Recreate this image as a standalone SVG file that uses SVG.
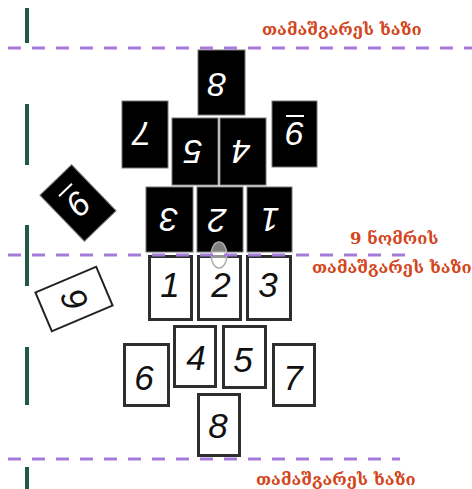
<svg xmlns="http://www.w3.org/2000/svg" width="472" height="489" viewBox="0 0 472 489">
<style>
.bt{fill:#000;stroke:#777;stroke-width:1}
.wt{fill:#fff;stroke:#2e2e2e;stroke-width:3}
.wd{font-family:"Liberation Sans",Arial,sans-serif;font-style:italic;font-size:35px;fill:#111;text-anchor:middle}
.bd{font-family:"Liberation Sans",Arial,sans-serif;font-style:italic;font-size:34px;fill:#fff;text-anchor:middle}
.geo{font-family:"DejaVu Serif","DejaVu Sans",serif;font-weight:bold;font-size:16.5px;fill:#d2461c}
.dash{stroke:#a67ad8;stroke-width:3;stroke-dasharray:13 11;fill:none}
.green{stroke:#1f5a47;stroke-width:4}
</style>
<rect width="472" height="489" fill="#fff"/>
<g id="sidelines">
<line class="green" x1="27" y1="8" x2="27" y2="43"/>
<line class="green" x1="27" y1="104" x2="27" y2="165"/>
<line class="green" x1="27" y1="225" x2="27" y2="286"/>
<line class="green" x1="27" y1="347" x2="27" y2="405"/>
<line class="green" x1="27" y1="467" x2="27" y2="489"/>
</g>
<g id="black-tiles">
<g id="b8"><rect class="bt" x="198" y="50" width="47" height="65"/><text class="bd" x="217" y="96.5" transform="rotate(180 217 84.5)">8</text></g>
<g id="b7"><rect class="bt" x="122" y="101" width="46" height="67"/><text class="bd" x="142" y="146" transform="rotate(180 142 134)">7</text></g>
<g id="b5"><rect class="bt" x="172" y="118" width="46" height="67"/><text class="bd" x="193" y="164" transform="rotate(180 193 152)">5</text></g>
<g id="b4"><rect class="bt" x="220" y="118" width="46" height="67"/><text class="bd" x="241" y="164" transform="rotate(180 241 152)">4</text></g>
<g id="b6"><rect class="bt" x="272" y="101" width="45" height="66"/><g transform="rotate(180 295 134)"><text class="bd" x="295" y="146">9</text><line x1="286" y1="152" x2="304" y2="152" stroke="#fff" stroke-width="2"/></g></g>
<g id="b3"><rect class="bt" x="146" y="187" width="47" height="65"/><text class="bd" x="169" y="232" transform="rotate(180 169 220)">3</text></g>
<g id="b2"><rect class="bt" x="197" y="187" width="46" height="65"/><text class="bd" x="217" y="233" transform="rotate(180 217 221)">2</text></g>
<g id="b1"><rect class="bt" x="247" y="187" width="45" height="65"/><text class="bd" x="270" y="232" transform="rotate(180 270 220)">1</text></g>
<g id="b9" transform="translate(78 203) rotate(136)"><rect class="bt" x="-22" y="-32" width="44" height="64"/><text class="bd" x="0" y="11">9</text><line x1="-9" y1="18" x2="9" y2="18" stroke="#fff" stroke-width="2"/></g>
</g>
<g id="white-tiles">
<g id="w1"><rect class="wt" x="149.5" y="256.5" width="42" height="63"/><text class="wd" x="170" y="297">1</text></g>
<g id="w2"><rect class="wt" x="198.5" y="256.5" width="42" height="63"/><text class="wd" x="221" y="297">2</text></g>
<g id="w3"><rect class="wt" x="247.5" y="256.5" width="43" height="63"/><text class="wd" x="268" y="297">3</text></g>
<g id="w4"><rect class="wt" x="174.5" y="326.5" width="41" height="60" stroke="#555" stroke-width="4"/><text class="wd" x="196" y="370">4</text></g>
<g id="w5"><rect class="wt" x="223.5" y="326.5" width="42" height="61" stroke="#555" stroke-width="4"/><text class="wd" x="243" y="372">5</text></g>
<g id="w6"><rect class="wt" x="124.5" y="344.5" width="44" height="61"/><text class="wd" x="144" y="390">6</text></g>
<g id="w7"><rect class="wt" x="273.5" y="344.5" width="41" height="61"/><text class="wd" x="293" y="390">7</text></g>
<g id="w8"><rect class="wt" x="198.5" y="394.5" width="41" height="61"/><text class="wd" x="218" y="438">8</text></g>
<g id="w9" transform="translate(74 299) rotate(-23)"><rect x="-33" y="-21" width="66" height="42" fill="#fff" stroke="#222" stroke-width="2"/><text class="wd" x="0" y="12" font-size="30" transform="rotate(90)">9</text></g>
</g>
<g id="ball"><ellipse cx="219" cy="255" rx="8" ry="13" fill="#fff" fill-opacity="0.5" stroke="#aaa" stroke-width="1.5"/></g>
<g id="connectors">
<line class="dash" x1="8" y1="48" x2="472" y2="48"/>
<line class="dash" x1="8" y1="255" x2="405" y2="255"/>
<line class="dash" x1="8" y1="459" x2="400" y2="459"/>
</g>
<g id="labels">
<text class="geo" x="262" y="35">თამაშგარეს ხაზი</text>
<text class="geo" x="350" y="244">9 ნომრის</text>
<text class="geo" x="312" y="273">თამაშგარეს ხაზი</text>
<text class="geo" x="256" y="485">თამაშგარეს ხაზი</text>
</g>
</svg>
